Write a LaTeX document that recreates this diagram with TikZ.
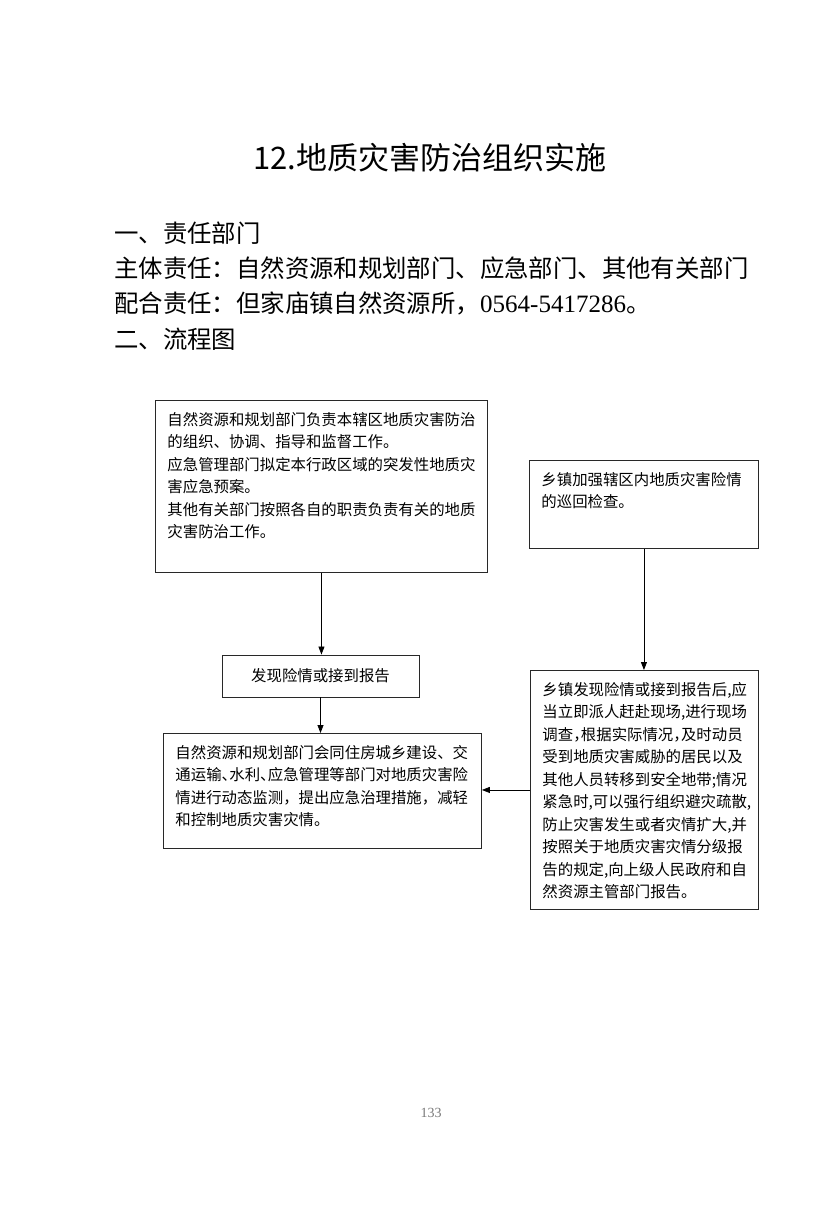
\documentclass[tikz,border=0pt]{standalone}
\usepackage{fontspec}
\setmainfont{Noto Sans CJK SC}
\newfontfamily\numfont{Liberation Serif}
\usetikzlibrary{
  arrows.meta,
  positioning
}
\definecolor{framegray}{RGB}{40,40,40}
\definecolor{pagegray}{RGB}{120,120,120}
\newcommand{\halfpunct}[1]{{\addfontfeatures{RawFeature=+halt}#1}}

\begin{document}
\begin{tikzpicture}[x=1pt, y=-1pt,
            flowbox/.style={rectangle, draw=framegray, line width=0.9pt, anchor=north west, align=left, font=\fontsize{15.4}{22.5}\selectfont, inner xsep=12pt, inner ysep=0pt, text height=25pt},
            headline/.style={anchor=base west, inner sep=0pt, font=\fontsize{24.4}{30}\selectfont},
            flowarrow/.style={draw=black, line width=0.8pt, -{Triangle[length=8pt,width=6pt]}}]
            \fill[white] (0,0) rectangle (828,1211);
            % heading
            \node [anchor=base, inner sep=0pt, font=\fontsize{31}{36}\selectfont] (title) at (430,169) {12.地质灾害防治组织实施};
            \node [headline] (h1) at (114,242) {一、责任部门};
            \node [headline] (h2) at (114,277) {主体责任：自然资源和规划部门、应急部门、其他有关部门};
            \node [headline] (h3) at (114,312) {配合责任：但家庙镇自然资源所，{\numfont\fontsize{25}{30}\selectfont 0564-5417286}。};
            \node [headline] (h4) at (114,348) {二、流程图};
            % flow chart
            \node [flowbox, text width=308pt, text depth=147pt] (duty) at (155,400) {自然资源和规划部门负责本辖区地质灾害防治\\的组织、协调、指导和监督工作。\\应急管理部门拟定本行政区域的突发性地质灾\\害应急预案。\\其他有关部门按照各自的职责负责有关的地质\\灾害防治工作。};
            \node [flowbox, text width=205pt, text depth=63pt] (patrol) at (529,460) {乡镇加强辖区内地质灾害险情\\的巡回检查。};
            \node [rectangle, draw=framegray, line width=0.9pt, minimum width=197pt, minimum height=42pt, font=\fontsize{15.4}{22.5}\selectfont] (report) at (320.5,676) {发现险情或接到报告};
            \node [flowbox, text width=294pt, text depth=90pt] (monitor) at (163,733) {自然资源和规划部门会同住房城乡建设、交\\通运输\halfpunct{、}水利\halfpunct{、}应急管理等部门对地质灾害险\\情进行动态监测，提出应急治理措施，减轻\\和控制地质灾害灾情。};
            \node [flowbox, text width=204pt, text depth=214pt] (town) at (530,670) {乡镇发现险情或接到报告后,应\\当立即派人赶赴现场,进行现场\\调查\halfpunct{，}根据实际情况\halfpunct{，}及时动员\\受到地质灾害威胁的居民以及\\其他人员转移到安全地带;情况\\紧急时,可以强行组织避灾疏散,\\防止灾害发生或者灾情扩大,并\\按照关于地质灾害灾情分级报\\告的规定,向上级人民政府和自\\然资源主管部门报告。};
            \draw [flowarrow] (duty.south) -- (duty.south |- report.north);
            \draw [flowarrow] (report.south) -- (report.south |- monitor.north);
            \draw [flowarrow] (patrol.south) -- (patrol.south |- town.north);
            \draw [flowarrow] (town.west) -- (town.west -| monitor.east);
            % page number
            \node [font=\numfont\fontsize{14}{16}\selectfont, text=pagegray] (pageno) at (431,1113) {133};
        \end{tikzpicture}
\end{document}
